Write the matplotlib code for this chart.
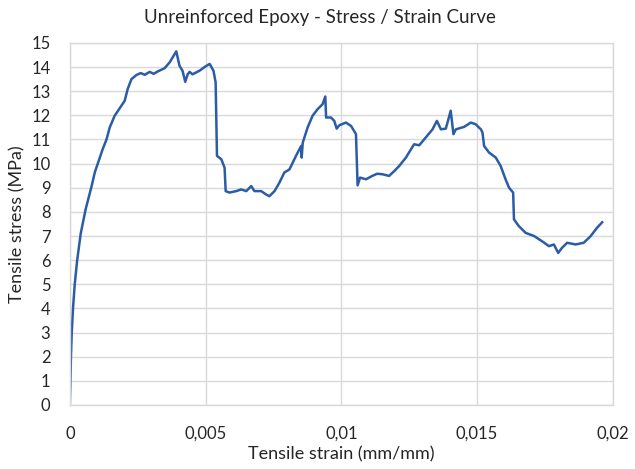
import matplotlib
matplotlib.use("Agg")
import matplotlib.pyplot as plt

plt.rcParams['font.family'] = ['Lato', 'DejaVu Sans']

strain = [0.0, 0.00002, 0.00004, 0.00007, 0.00012, 0.00018, 0.00027, 0.00040, 0.00058, 0.00080,
          0.00092, 0.00121, 0.00135, 0.00147, 0.00165, 0.00184, 0.00202, 0.00213, 0.00227, 0.00245,
          0.00261, 0.00276, 0.00294, 0.00309, 0.00324, 0.00349, 0.00368, 0.00392, 0.00404, 0.00415,
          0.00425, 0.00434, 0.00441, 0.00452, 0.00478, 0.00496, 0.00515, 0.00529, 0.00537, 0.00542,
          0.00558, 0.00570, 0.00574, 0.00588, 0.00613, 0.00631, 0.00650, 0.00668, 0.00680, 0.00705,
          0.00723, 0.00735, 0.00754, 0.00772, 0.00790, 0.00809, 0.00833, 0.00852, 0.00854, 0.00858,
          0.00876, 0.00894, 0.00913, 0.00931, 0.00941, 0.00944, 0.00962, 0.00974, 0.00983, 0.00993,
          0.01017, 0.01036, 0.01054, 0.01060, 0.01069, 0.01091, 0.01114, 0.01132, 0.01151, 0.01176,
          0.01195, 0.01213, 0.01238, 0.01268, 0.01287, 0.01311, 0.01336, 0.01352, 0.01367, 0.01385,
          0.01403, 0.01413, 0.01422, 0.01452, 0.01477, 0.01495, 0.01514, 0.01520, 0.01526, 0.01544,
          0.01569, 0.01587, 0.01605, 0.01618, 0.01633, 0.01636, 0.01654, 0.01679, 0.01710, 0.01740,
          0.01765, 0.01783, 0.01799, 0.01813, 0.01832, 0.01863, 0.01893, 0.01918, 0.01942, 0.01961]

stress = [0.1, 1.0, 2.0, 3.0, 4.07, 5.0, 6.0, 7.1, 8.1, 9.06,
          9.64, 10.6, 11.0, 11.5, 11.98, 12.3, 12.6, 13.09, 13.5, 13.67,
          13.75, 13.68, 13.8, 13.72, 13.82, 13.95, 14.2, 14.65, 14.05, 13.85,
          13.39, 13.7, 13.8, 13.7, 13.85, 14.0, 14.13, 13.85, 13.37, 10.32,
          10.18, 9.83, 8.86, 8.8, 8.86, 8.93, 8.86, 9.07, 8.86, 8.86,
          8.72, 8.65, 8.86, 9.21, 9.63, 9.76, 10.32, 10.73, 10.25, 10.87,
          11.5, 11.98, 12.26, 12.46, 12.78, 11.91, 11.91, 11.77, 11.45, 11.59,
          11.7, 11.56, 11.22, 9.1, 9.42, 9.35, 9.49, 9.58, 9.56, 9.49,
          9.69, 9.9, 10.25, 10.8, 10.76, 11.08, 11.42, 11.77, 11.42, 11.45,
          12.19, 11.22, 11.42, 11.52, 11.7, 11.63, 11.42, 11.29, 10.73, 10.46,
          10.25, 9.9, 9.35, 9.0, 8.8, 7.69, 7.41, 7.13, 7.0, 6.78,
          6.58, 6.65, 6.3, 6.51, 6.72, 6.65, 6.72, 6.99, 7.34, 7.57]

x_ticks = [0, 0.005, 0.01, 0.015, 0.02]
x_tick_labels = ['0', '0,005', '0,01', '0,015', '0,02']
y_ticks = list(range(0, 16))

title = 'Unreinforced Epoxy - Stress / Strain Curve'
x_label = 'Tensile strain (mm/mm)'
y_label = 'Tensile stress (MPa)'

text_color = '#262626'
grid_color = '#D9D9D9'

fig = plt.figure(figsize=(6.35, 4.69), dpi=100)
ax = fig.add_axes([0.110, 0.1365, 0.855, 0.772])

ax.plot(strain, stress, color='#2B5CA6', lw=1.8, solid_joinstyle='round')

ax.set_xlim(0, 0.02)
ax.set_ylim(0, 15)
ax.set_xticks(x_ticks)
ax.set_xticklabels(x_tick_labels)
ax.set_yticks(y_ticks)
ax.set_yticklabels([str(v) for v in y_ticks])
ax.tick_params(axis='both', length=0, labelsize=12, colors=text_color)
ax.tick_params(axis='x', pad=15)
ax.tick_params(axis='y', pad=14)

ax.grid(True, color=grid_color, lw=1.0)
ax.set_axisbelow(True)
for s in ax.spines.values():
    s.set_color(grid_color)
    s.set_linewidth(1.0)

fig.text(0.504, 0.962, title, fontsize=13.5, color=text_color, ha='center', va='center')
ax.set_xlabel(x_label, fontsize=13, color=text_color, labelpad=3)
ax.set_ylabel(y_label, fontsize=13, color=text_color, labelpad=4)

fig.savefig('out.png', dpi=100, facecolor='white')
